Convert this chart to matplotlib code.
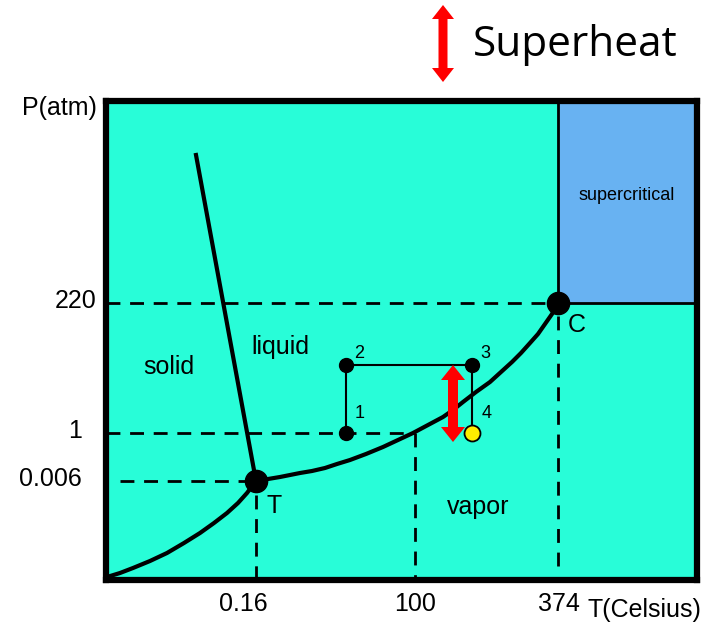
import matplotlib
matplotlib.use("Agg")
import matplotlib.pyplot as plt
from matplotlib.patches import Polygon

# schematic coordinates (y grows downward)
fusion_x = [196, 226, 256]
fusion_y = [155, 318, 481]
sublim_x = [107, 120, 133, 150, 167, 184, 200, 214, 227, 238, 247, 256]
sublim_y = [577, 573, 568, 561, 553, 543, 533, 523, 513, 503, 493, 481]
vapor_x = [256, 268, 280, 290, 300, 312, 325, 337, 350, 366, 383, 398, 413, 428,
           443, 453, 463, 476, 490, 501, 512, 521, 530, 538, 545, 552, 558]
vapor_y = [481, 479, 477, 475, 473, 471, 468, 464, 460, 454, 447, 440, 433, 425,
           417, 410, 402, 392, 382, 372, 362, 353, 343, 334, 324, 314, 303]
cycle_x = [346, 346, 472, 472]
cycle_y = [433, 365, 365, 433]
cycle_names = ["1", "2", "3", "4"]
triple = (256, 481)
critical = (558, 303)
p_ticks = ["220", "1", "0.006"]
p_ticks_y = [303, 433, 481]
t_ticks = ["0.16", "100", "374"]
t_ticks_x = [243, 415, 559]

BG = "#28fdd8"
SC = "#68b2f2"


def double_arrow(ax, x, y0, y1, shaft=10, head=24, hlen=15, **kw):
    s, h = shaft / 2, head / 2
    pts = [(x, y0), (x + h, y0 + hlen), (x + s, y0 + hlen), (x + s, y1 - hlen),
           (x + h, y1 - hlen), (x, y1), (x - h, y1 - hlen), (x - s, y1 - hlen),
           (x - s, y0 + hlen), (x - h, y0 + hlen)]
    ax.add_patch(Polygon(pts, closed=True, color="#ff0000", lw=0, **kw))


fig = plt.figure(figsize=(7.15, 6.25), dpi=100)
ax = fig.add_axes([106/715, 1-580/625, (697-106)/715, (580-101)/625])
ax.set_xlim(106, 697)
ax.set_ylim(580, 101)
ax.set_facecolor(BG)
ax.set_xticks([])
ax.set_yticks([])
for s in ax.spines.values():
    s.set_linewidth(4.5)
    s.set_zorder(10)

# supercritical region
ax.fill_between([558, 697], 101, 303, color=SC, zorder=1)
ax.plot([558, 558], [101, 303], color="black", lw=2, zorder=2)
ax.plot([558, 697], [303, 303], color="black", lw=2, zorder=2)
ax.text(627, 195, "supercritical", fontsize=13, ha="center", va="center",
        family="Liberation Sans")

# dashed guides
dash = dict(color="black", lw=2, dashes=(5, 3.5), zorder=3)
ax.plot([106, 558], [303, 303], **dash)
ax.plot([106, 415], [433, 433], **dash)
ax.plot([120, 245], [481, 481], **dash)
ax.plot([256, 256], [495, 578], **dash)
ax.plot([415, 415], [433, 578], **dash)
ax.plot([558, 558], [316, 566], **dash)

# phase boundaries
line = dict(color="black", lw=3, zorder=4, solid_joinstyle="round")
ax.plot(fusion_x, fusion_y, **line)
ax.plot(sublim_x, sublim_y, **line)
ax.plot(vapor_x, vapor_y, **line)
ax.plot(*triple, "o", color="black", ms=16, zorder=5)
ax.plot(*critical, "o", color="black", ms=16, zorder=5)

# cycle
ax.plot(cycle_x, cycle_y, color="black", lw=1.5, zorder=5)
ax.plot(cycle_x[:3], cycle_y[:3], "o", color="black", ms=10, zorder=6)
ax.plot(cycle_x[3], cycle_y[3], "o", mfc="#ffee00", mec="black", mew=1.3, ms=11.5, zorder=6)
offs = [(14, -20), (13, -12), (13, -12), (15, -20)]
for n, x, y, (dx, dy) in zip(cycle_names, cycle_x, cycle_y, offs):
    ax.text(x + dx, y + dy, n, fontsize=13, ha="center", va="center",
            family="Liberation Sans")

# superheat arrows
double_arrow(ax, 453, 365, 442, zorder=7)
double_arrow(ax, 443, 5, 82, shaft=9, head=22, hlen=14, clip_on=False)
ax.text(473, 45, "Superheat", fontsize=30.5, ha="left", va="center",
        family="Open Sans", clip_on=False)

# region labels
lab = dict(fontsize=18, ha="center", va="center", family="Liberation Sans")
ax.text(169, 367, "solid", **lab)
ax.text(280, 347, "liquid", **lab)
ax.text(478, 507, "vapor", **lab)
ax.text(274, 506, "T", **lab)
ax.text(577, 325, "C", **lab)

# axis labels
tl = dict(fontsize=18, family="Liberation Sans", clip_on=False)
ax.text(97, 108, "P(atm)", ha="right", va="center", **tl)
for name, y in zip(p_ticks, p_ticks_y):
    ax.text(97 if name == "220" else 82, y - 2, name, ha="right", va="center", **tl)
for name, x in zip(t_ticks, t_ticks_x):
    ax.text(x, 604, name, ha="center", va="center", **tl)
ax.text(588, 610, "T(Celsius)", ha="left", va="center", **tl)

fig.savefig("out.png", dpi=100)
